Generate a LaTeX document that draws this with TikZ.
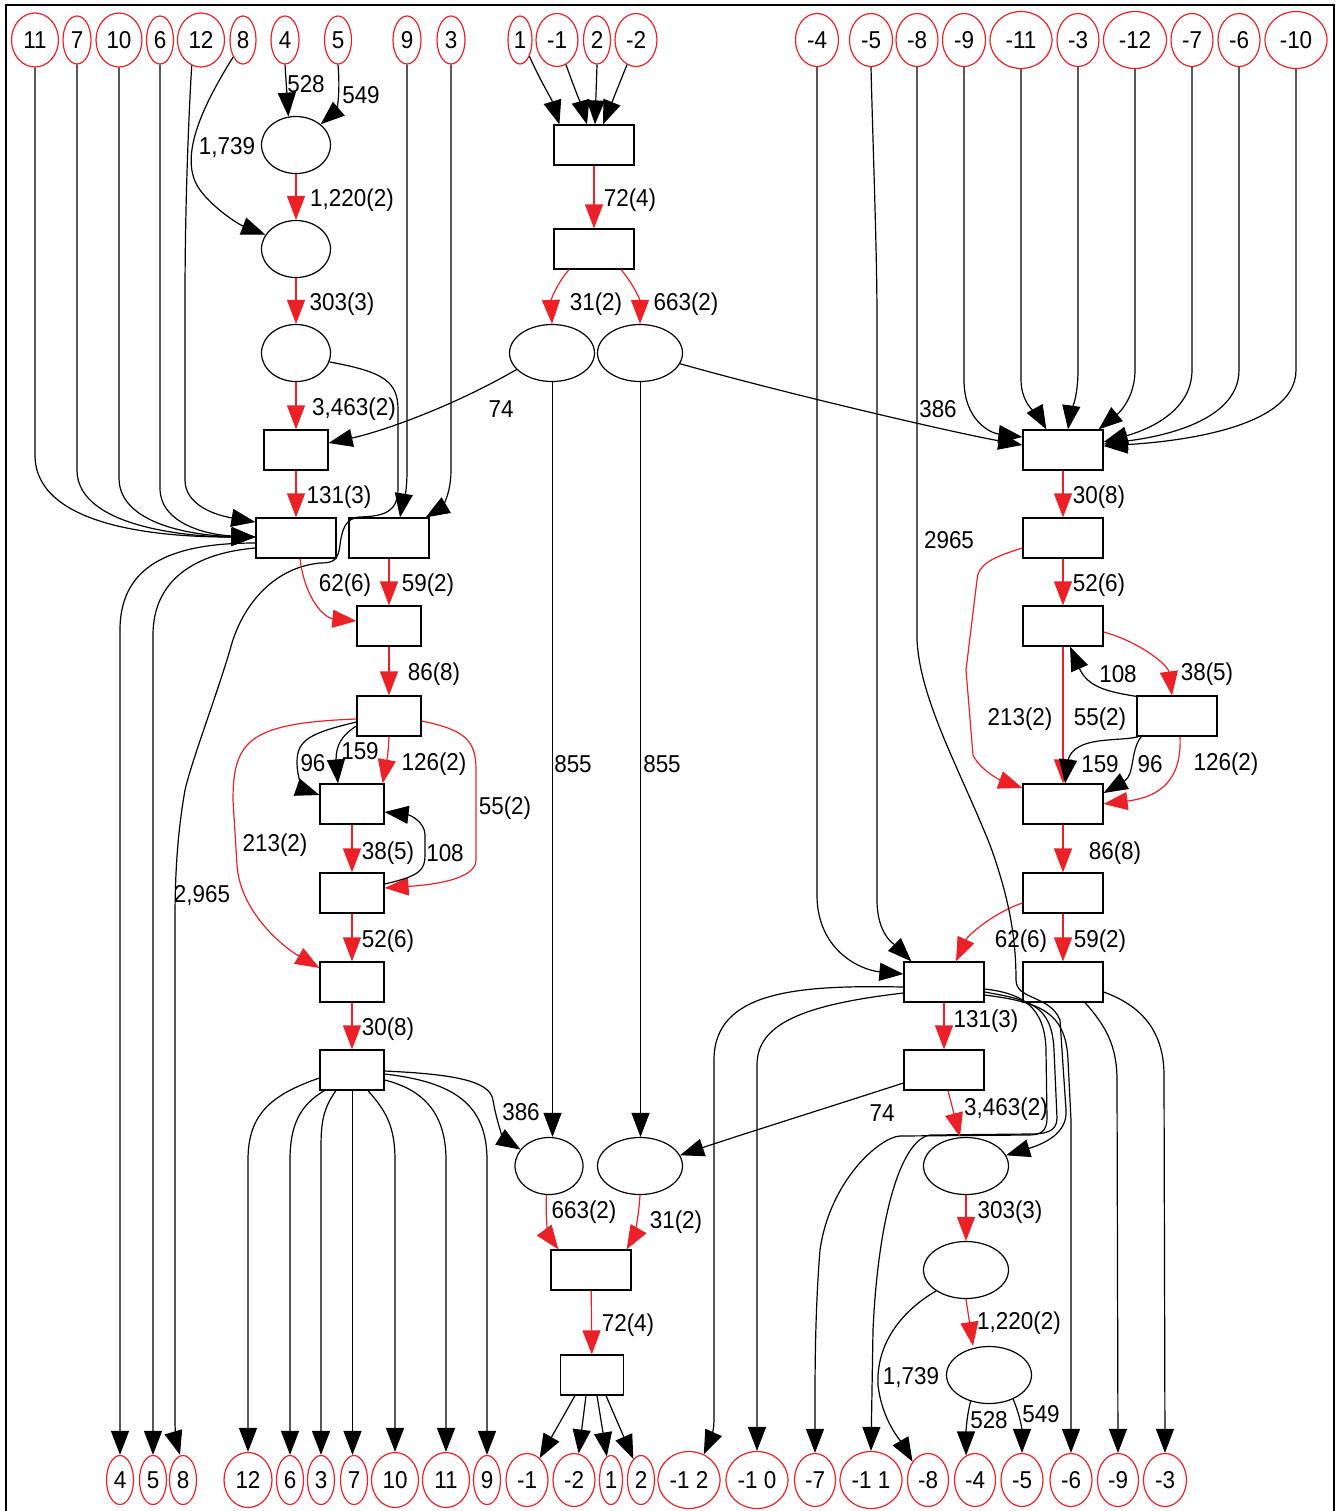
\documentclass[tikz,border=0pt]{standalone}
\usepackage{fontspec}
\setmainfont{Liberation Sans}[FakeStretch=0.92]
\usetikzlibrary{shapes.geometric,arrows.meta,calc}
\definecolor{gvred}{RGB}{236,32,39}
\tikzset{
  every node/.style={font=\fontsize{12.2}{13.5}\selectfont},
  tnode/.style 2 args={ellipse, draw=gvred, line width=0.6pt, inner sep=0pt, minimum width=#1*0.5pt, minimum height=#2*0.5pt},
  pnode/.style={ellipse, draw=black, line width=0.6pt, inner sep=0pt, minimum width=#1*0.5pt, minimum height=28.5pt},
  bnode/.style={rectangle, draw=black, line width=0.6pt, inner sep=0pt, minimum width=#1*0.5pt, minimum height=20pt},
  bk/.style={draw=black, line width=0.6pt, -{Triangle[length=12pt,width=9pt]}},
  rd/.style={draw=gvred, line width=0.6pt, -{Triangle[length=12pt,width=9pt]}},
  lbl/.style={inner sep=0pt}
}
\begin{document}
\begin{tikzpicture}[x=0.5pt,y=-0.5pt]
\useasboundingbox (0,0) rectangle (1338,1511);
\draw[line width=0.7pt] (6,1520) -- (6,5) -- (1334,5) -- (1334,1520);

% ---------- top terminals ----------
\node[tnode={47}{54}] (t11) at (35,40) {11};
\node[tnode={28}{48}] (t7) at (77,40) {7};
\node[tnode={46}{54}] (t10) at (119,40) {10};
\node[tnode={27}{48}] (t6) at (160,40) {6};
\node[tnode={47}{54}] (t12) at (201,40) {12};
\node[tnode={26}{48}] (t8) at (243,40) {8};
\node[tnode={28}{48}] (t4) at (285,40) {4};
\node[tnode={27}{48}] (t5) at (338,40) {5};
\node[tnode={28}{48}] (t9) at (407,40) {9};
\node[tnode={28}{48}] (t3) at (451,40) {3};
\node[tnode={24}{48}] (t1) at (520,40) {1};
\node[tnode={42}{53}] (tm1) at (557,40) {-1};
\node[tnode={27}{48}] (t2) at (597,40) {2};
\node[tnode={42}{53}] (tm2) at (636,40) {-2};
\node[tnode={43}{53}] (tm4) at (817,40) {-4};
\node[tnode={43}{53}] (tm5) at (871,40) {-5};
\node[tnode={42}{53}] (tm8) at (917,40) {-8};
\node[tnode={43}{53}] (tm9) at (964,40) {-9};
\node[tnode={62}{57}] (tm11) at (1021,40) {-11};
\node[tnode={42}{53}] (tm3) at (1078,40) {-3};
\node[tnode={63}{57}] (tm12) at (1135,40) {-12};
\node[tnode={42}{53}] (tm7) at (1192,40) {-7};
\node[tnode={42}{53}] (tm6) at (1239,40) {-6};
\node[tnode={62}{57}] (tm10) at (1296,40) {-10};

% ---------- bottom terminals ----------
\node[tnode={27}{49}] (b4) at (120,1480) {4};
\node[tnode={27}{49}] (b5) at (153,1480) {5};
\node[tnode={27}{49}] (b8) at (183,1480) {8};
\node[tnode={48}{55}] (b12) at (248,1480) {12};
\node[tnode={27}{49}] (b6) at (290,1480) {6};
\node[tnode={27}{49}] (b3) at (321,1480) {3};
\node[tnode={27}{49}] (b7) at (354,1480) {7};
\node[tnode={47}{55}] (b10) at (395,1480) {10};
\node[tnode={47}{55}] (b11) at (446,1480) {11};
\node[tnode={27}{49}] (b9) at (487,1480) {9};
\node[tnode={42}{53}] (bm1) at (527,1480) {-1};
\node[tnode={42}{53}] (bm2) at (574,1480) {-2};
\node[tnode={23}{49}] (b1) at (611,1480) {1};
\node[tnode={27}{49}] (b2) at (641,1480) {2};
\node[tnode={62}{57}] (bm12) at (689,1480) {-1 2};
\node[tnode={62}{57}] (bm10) at (757,1480) {-1 0};
\node[tnode={41}{53}] (bm7) at (815,1480) {-7};
\node[tnode={62}{57}] (bm11) at (871,1480) {-1 1};
\node[tnode={41}{53}] (bm8) at (928,1480) {-8};
\node[tnode={41}{53}] (bm4) at (975,1480) {-4};
\node[tnode={42}{53}] (bm5) at (1022,1480) {-5};
\node[tnode={42}{53}] (bm6) at (1071,1480) {-6};
\node[tnode={41}{53}] (bm9) at (1118,1480) {-9};
\node[tnode={43}{53}] (bm3) at (1165,1480) {-3};

% ---------- inner nodes ----------
\node[pnode=69] (E1) at (296,145) {};
\node[pnode=69] (E2) at (296,249) {};
\node[pnode=69] (E3) at (296,353) {};
\node[bnode=64] (B1) at (296,450) {};
\node[bnode=80] (B2) at (296,538) {};
\node[bnode=80] (B3) at (389,538) {};
\node[bnode=64] (B4) at (389,626) {};
\node[bnode=64] (B5) at (389,716) {};
\node[bnode=64] (B6) at (352,804) {};
\node[bnode=64] (B7) at (352,893) {};
\node[bnode=64] (B8) at (352,982) {};
\node[bnode=64] (B9) at (352,1070) {};
\node[bnode=80] (M1) at (594,145) {};
\node[bnode=80] (M2) at (594,249) {};
\node[pnode=85] (M3) at (552,353) {};
\node[pnode=85] (M4) at (640,353) {};
\node[pnode=68] (M5) at (549,1166) {};
\node[pnode=85] (M6) at (640,1166) {};
\node[bnode=80] (M7) at (591,1270) {};
\node[bnode=63] (M8) at (592,1375) {};
\node[bnode=80] (R1) at (1063,450) {};
\node[bnode=80] (R2) at (1063,538) {};
\node[bnode=80] (R3) at (1063,626) {};
\node[bnode=80] (R4) at (1177,716) {};
\node[bnode=80] (R5) at (1063,804) {};
\node[bnode=80] (R6) at (1063,893) {};
\node[bnode=80] (R7) at (944,982) {};
\node[bnode=80] (R8) at (1063,982) {};
\node[bnode=80] (R9) at (944,1070) {};
\node[pnode=85] (R10) at (966,1166) {};
\node[pnode=85] (R11) at (966,1270) {};
\node[pnode=85] (R12) at (989,1375) {};

% ---------- left part edges ----------
\draw[bk] (t11.south) -- (35,455) .. controls (35,535) and (190,537) .. ($(B2.west)+(0,-1)$);
\draw[bk] (t7.south) -- (77,470) .. controls (77,530) and (200,537) .. ($(B2.west)+(0,-1)$);
\draw[bk] (t10.south) -- (119,478) .. controls (119,528) and (205,536) .. ($(B2.west)+(0,-1)$);
\draw[bk] (t6.south) -- (160,488) .. controls (160,525) and (210,535) .. ($(B2.west)+(0,-1)$);
\draw[bk] (t12.250) .. controls (189,110) and (185,200) .. (185,300) -- (185,480) .. controls (185,505) and (215,515) .. ($(B2.west)+(0,-16)$);
\draw[bk] (t8.240) .. controls (200,110) and (178,160) .. (200,190) .. controls (215,210) and (240,225) .. (E2.155);
\draw[bk] (t4.south) -- (E1.105);
\draw[bk] (t5.south) .. controls (341,100) and (335,112) .. (E1.40);
\draw[rd] (E1) -- (E2);
\draw[rd] (E2) -- (E3);
\draw[rd] (E3) -- (B1);
\draw[rd] (B1) -- (B2);
\draw[bk] (M3.205) .. controls (450,408) and (380,432) .. ($(B1.east)+(0,-7)$);
\draw[bk] (t9.south) -- (407,470) .. controls (407,500) and (402,505) .. ($(B3.north)+(11,0)$);
\draw[bk] (t3.south) -- (451,470) .. controls (451,500) and (438,510) .. ($(B3.north east)+(-4,0)$);
\draw[bk] (E3.345) .. controls (385,372) and (398,382) .. (398,410) -- (398,488)
  .. controls (398,512) and (385,516) .. (360,517) .. controls (345,518) and (342,530) .. (340,545)
  .. controls (338,560) and (334,563) .. (320,563) .. controls (270,568) and (240,610) .. (230,650)
  .. controls (215,700) and (192,760) .. (185,790) .. controls (178,830) and (175,870) .. (175,920)
  -- (175,1420) .. controls (175,1440) and (178,1448) .. ($(b8.north)+(-3,0)$);
\draw[bk] ($(B2.west)+(0,5)$) .. controls (180,543) and (120,560) .. (120,630) -- (b4.north);
\draw[bk] ($(B2.west)+(0,10)$) .. controls (195,553) and (153,580) .. (153,635) -- (b5.north);
\draw[rd] ($(B2.south)+(4,0)$) .. controls (305,600) and (325,618) .. ($(B4.west)+(0,-5)$);
\draw[rd] (B3.south) -- (B4.north);
\draw[rd] (B4) -- (B5);
\draw[bk] ($(B5.west)+(0,6)$) .. controls (310,733) and (297,740) .. (297,762) .. controls (297,780) and (305,790) .. ($(B6.west)+(0,-9)$);
\draw[bk] ($(B5.west)+(0,10)$) .. controls (342,735) and (336,745) .. (336,760) -- ($(B6.north)+(-14,0)$);
\draw[rd] (B5.south) .. controls (388,760) and (385,770) .. ($(B6.north east)+(-2,0)$);
\draw[rd] ($(B5.west)+(0,3)$) .. controls (250,723) and (233,740) .. (233,800) -- (237,865) .. controls (240,910) and (280,945) .. ($(B8.west)+(0,-14)$);
\draw[rd] ($(B5.east)+(0,5)$) .. controls (465,730) and (476,740) .. (476,770) -- (476,860) .. controls (476,880) and (430,885) .. ($(B7.east)+(0,-5)$);
\draw[rd] (B6) -- (B7);
\draw[bk] ($(B7.east)+(0,-9)$) .. controls (420,876) and (425,870) .. (425,855) -- (425,835) .. controls (425,822) and (410,815) .. ($(B6.east)+(0,8)$);
\draw[rd] (B7) -- (B8);
\draw[rd] (B8) -- (B9);
\draw[bk] ($(B9.west)+(0,8)$) .. controls (270,1095) and (248,1115) .. (248,1160) -- (b12.north);
\draw[bk] ($(B9.south west)+(5,0)$) .. controls (300,1105) and (290,1125) .. (290,1160) -- (b6.north);
\draw[bk] ($(B9.south)+(-16,0)$) .. controls (322,1110) and (321,1125) .. (321,1150) -- (b3.north);
\draw[bk] ($(B9.south)+(0.5,0)$) -- ($(B9.south |- b7.north)+(0.5,0)$);
\draw[bk] ($(B9.south)+(16,0)$) .. controls (385,1110) and (395,1125) .. (395,1160) -- (b10.north);
\draw[bk] ($(B9.east)+(0,10)$) .. controls (425,1090) and (446,1115) .. (446,1160) -- (b11.north);
\draw[bk] ($(B9.east)+(0,4)$) .. controls (455,1082) and (487,1105) .. (487,1160) -- (b9.north);
\draw[bk] ($(B9.east)+(0,1)$) .. controls (450,1074) and (490,1080) .. (493,1100) .. controls (497,1125) and (505,1140) .. (M5.150);

% ---------- middle edges ----------
\draw[bk] (t1.300) .. controls (540,80) and (552,100) .. ($(M1.north west)+(6,0)$);
\draw[bk] (tm1.290) .. controls (575,90) and (583,110) .. ($(M1.north)+(-7,0)$);
\draw[bk] (t2.south) -- ($(M1.north)+(1,0)$);
\draw[bk] (tm2.250) -- ($(M1.north)+(9,0)$);
\draw[rd] (M1) -- (M2);
\draw[rd] ($(M2.south)+(-25,0)$) .. controls (556,285) and (551,300) .. (M3.north);
\draw[rd] ($(M2.south)+(27,0)$) .. controls (634,285) and (640,300) .. (M4.north);
\draw[bk] ($(M3.south)+(0.5,0)$) -- ($(M3.south |- M5.north)+(0.5,0)$);
\draw[bk] ($(M4.south)+(0.5,0)$) -- ($(M6.north)+(0.5,0)$);
\draw[bk] (M4.345) .. controls (780,392) and (950,432) .. ($(R1.west)+(0,-5)$);
\draw[rd] (M5.265) .. controls (545,1225) and (550,1238) .. ($(M7.north west)+(8,0)$);
\draw[rd] (M6.south) .. controls (638,1227) and (632,1240) .. ($(M7.north east)+(-5,0)$);
\draw[rd] (M7) -- (M8);
\draw[bk] ($(M8.south)+(-17,0)$) -- (bm1.60);
\draw[bk] ($(M8.south)+(-6,0)$) -- (bm2.80);
\draw[bk] ($(M8.south)+(5,0)$) -- (b1.100);
\draw[bk] ($(M8.south)+(14,0)$) -- (b2.110);

% ---------- right part edges ----------
\draw[bk] (tm9.south) -- (964,380) .. controls (964,420) and (990,433) .. ($(R1.west)+(0,-13)$);
\draw[bk] (tm11.south) -- (1021,380) .. controls (1021,405) and (1040,418) .. ($(R1.north west)+(24,0)$);
\draw[bk] (tm3.south) -- (1078,370) .. controls (1078,400) and (1070,415) .. ($(R1.north)+(5,0)$);
\draw[bk] (tm12.south) -- (1135,370) .. controls (1135,405) and (1110,420) .. ($(R1.north east)+(-5,0)$);
\draw[bk] (tm7.south) -- (1192,370) .. controls (1192,415) and (1140,432) .. ($(R1.east)+(0,-8)$);
\draw[bk] (tm6.south) -- (1239,370) .. controls (1239,425) and (1150,438) .. ($(R1.east)+(0,-6)$);
\draw[bk] (tm10.south) -- (1296,370) .. controls (1296,430) and (1170,442) .. ($(R1.east)+(0,-4)$);
\draw[rd] (R1) -- (R2);
\draw[rd] (R2) -- (R3);
\draw[rd] ($(R2.west)+(0,10)$) .. controls (990,558) and (978,565) .. (977,580) -- (966,670) -- (973,755) .. controls (980,770) and (1000,780) .. ($(R5.west)+(0,-16)$);
\draw[rd] ($(R3.east)+(0,6)$) .. controls (1140,642) and (1168,665) .. ($(R4.north)+(-5,0)$);
\draw[bk] ($(R4.north west)+(0,1)$) .. controls (1110,692) and (1088,688) .. ($(R3.south)+(7,0)$);
\draw[rd] (R3.south) -- (R5.north);
\draw[bk] ($(R4.south west)+(2,0)$) .. controls (1120,742) and (1075,735) .. (1068,760) -- ($(R5.north)+(2,0)$);
\draw[bk] ($(R4.south west)+(5,0)$) .. controls (1130,750) and (1135,775) .. ($(R5.east)+(0,-11)$);
\draw[rd] ($(R4.south)+(3,0)$) .. controls (1182,780) and (1160,797) .. (R5.east);
\draw[rd] (R5) -- (R6);
\draw[rd] ($(R6.west)+(0,10)$) .. controls (995,912) and (968,935) .. ($(R7.north)+(12,0)$);
\draw[rd] (R6) -- (R8);
\draw[bk] (tm4.south) -- (817,895) .. controls (817,950) and (860,970) .. ($(R7.west)+(0,-8)$);
\draw[bk] (tm5.south) .. controls (873,150) and (877,250) .. (877,320) -- (877,900) .. controls (877,935) and (895,945) .. ($(R7.north west)+(8,0)$);
\draw[bk] (tm8.south) -- (917,640) .. controls (920,700) and (960,770) .. (990,845) .. controls (1010,900) and (1016,940) .. (1016,980)
  .. controls (1016,1000) and (1050,995) .. (1060,1020) -- (1066,1110) .. controls (1068,1135) and (1040,1145) .. (R10.15);
\draw[bk] ($(R7.west)+(0,5)$) .. controls (800,985) and (714,990) .. (714,1060) -- (714,1420) .. controls (714,1435) and (708,1445) .. (bm12.60);
\draw[bk] ($(R7.west)+(0,11)$) .. controls (800,1005) and (757,1025) .. (757,1065) -- (bm10.north);
\draw[bk] ($(R7.east)+(0,7)$) .. controls (1020,993) and (1045,1005) .. (1046,1050) -- (1047,1118) .. controls (1047,1132) and (1040,1135) .. (1028,1135)
  -- (900,1136) .. controls (880,1137) and (830,1180) .. (820,1250) .. controls (816,1300) and (815,1350) .. (815,1400) -- (bm7.north);
\draw[bk] ($(R7.east)+(0,10)$) .. controls (1030,1000) and (1052,1005) .. (1054,1050) -- (1057,1118) .. controls (1057,1132) and (1045,1134) .. (1030,1134)
  -- (930,1135) .. controls (900,1140) and (878,1220) .. (873,1330) -- (bm11.north);
\draw[bk] ($(R7.east)+(0,13)$) .. controls (1040,1002) and (1066,1012) .. (1068,1060) -- (1071,1120) -- (bm6.north);
\draw[bk] ($(R8.south)+(22,0)$) .. controls (1105,1025) and (1117,1045) .. (1117,1080) -- (bm9.north);
\draw[bk] ($(R8.east)+(0,10)$) .. controls (1140,1005) and (1164,1030) .. (1164,1075) -- (bm3.north);
\draw[rd] (R7) -- (R9);
\draw[bk] ($(R9.west)+(0,13)$) .. controls (820,1110) and (740,1135) .. (M6.15);
\draw[rd] ($(R9.south)+(4,0)$) -- ($(R10.north)+(-6,0)$);
\draw[rd] (R10) -- (R11);
\draw[rd] (R11.south) -- ($(R12.north)+(-16,0)$);
\draw[bk] (R11.215) .. controls (900,1312) and (876,1345) .. (878,1385) .. controls (882,1420) and (900,1440) .. (bm8.130);
\draw[bk] (R12.235) .. controls (967,1415) and (966,1430) .. (bm4.110);
\draw[bk] (R12.315) .. controls (1020,1415) and (1022,1430) .. (bm5.north);

% ---------- labels ----------
\node[lbl] (l01) at (227,148) {1,739};
\node[lbl] (l02) at (306,84) {528};
\node[lbl] (l03) at (361,95) {549};
\node[lbl] (l04) at (352,200) {1,220(2)};
\node[lbl] (l05) at (342,304) {303(3)};
\node[lbl] (l06) at (354,409) {3,463(2)};
\node[lbl] (l07) at (501,409) {74};
\node[lbl] (l08) at (339,497) {131(3)};
\node[lbl] (l09) at (345,585) {62(6)};
\node[lbl] (l10) at (428,585) {59(2)};
\node[lbl] (l11) at (434,674) {86(8)};
\node[lbl] (l12) at (313,763) {96};
\node[lbl] (l13) at (360,751) {159};
\node[lbl] (l14) at (434,764) {126(2)};
\node[lbl] (l15) at (505,808) {55(2)};
\node[lbl] (l16) at (275,845) {213(2)};
\node[lbl] (l17) at (388,853) {38(5)};
\node[lbl] (l18) at (445,853) {108};
\node[lbl] (l19) at (202,896) {2,965};
\node[lbl] (l20) at (388,941) {52(6)};
\node[lbl] (l21) at (388,1029) {30(8)};
\node[lbl] (l22) at (521,1112) {386};
\node[lbl] (l23) at (630,200) {72(4)};
\node[lbl] (l24) at (596,304) {31(2)};
\node[lbl] (l25) at (686,304) {663(2)};
\node[lbl] (l26) at (573,764) {855};
\node[lbl] (l27) at (662,764) {855};
\node[lbl] (l28) at (938,409) {386};
\node[lbl] (l29) at (584,1212) {663(2)};
\node[lbl] (l30) at (676,1222) {31(2)};
\node[lbl] (l31) at (628,1325) {72(4)};
\node[lbl] (l32) at (949,540) {2965};
\node[lbl] (l33) at (1099,497) {30(8)};
\node[lbl] (l34) at (1099,585) {52(6)};
\node[lbl] (l35) at (1118,674) {108};
\node[lbl] (l36) at (1207,674) {38(5)};
\node[lbl] (l37) at (1020,719) {213(2)};
\node[lbl] (l38) at (1100,719) {55(2)};
\node[lbl] (l39) at (1100,764) {159};
\node[lbl] (l40) at (1150,764) {96};
\node[lbl] (l41) at (1226,764) {126(2)};
\node[lbl] (l42) at (1115,853) {86(8)};
\node[lbl] (l43) at (1021,941) {62(6)};
\node[lbl] (l44) at (1100,941) {59(2)};
\node[lbl] (l45) at (986,1021) {131(3)};
\node[lbl] (l46) at (882,1113) {74};
\node[lbl] (l47) at (1006,1109) {3,463(2)};
\node[lbl] (l48) at (1010,1212) {303(3)};
\node[lbl] (l49) at (1019,1323) {1,220(2)};
\node[lbl] (l50) at (911,1378) {1,739};
\node[lbl] (l51) at (989,1420) {528};
\node[lbl] (l52) at (1041,1414) {549};
\end{tikzpicture}
\end{document}
